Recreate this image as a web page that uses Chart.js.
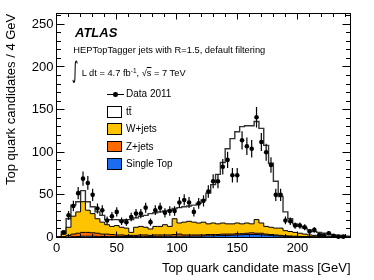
<!DOCTYPE html>
<html><head><meta charset="utf-8">
<script src="https://cdn.jsdelivr.net/npm/chart.js@4.4.0/dist/chart.umd.min.js"></script>
<style>
html,body{margin:0;padding:0;background:#fff;}
#wrap{position:relative;width:374px;height:280px;overflow:hidden;font-family:'Liberation Sans',Arial,sans-serif;color:#000;}
#c{position:absolute;left:0;top:0;}
.t{position:absolute;white-space:nowrap;}
.box{position:absolute;box-sizing:border-box;width:14.5px;height:11.5px;border:1px solid #000;}
</style></head>
<body><div id="wrap"><canvas id="c" width="374" height="280"></canvas>
<div class="t" style="left:3.5px;top:185px;font-size:13px;line-height:13px;transform-origin:0 0;transform:rotate(-90deg);">Top quark candidates / 4 GeV</div>
<div class="t" style="right:23.5px;top:261px;font-size:13px;line-height:13px;">Top quark candidate mass [GeV]</div>
<div class="t" style="left:75px;top:25.7px;font-size:13px;line-height:13px;font-weight:bold;font-style:italic;">ATLAS</div>
<div class="t" style="left:73.3px;top:46.1px;font-size:9.3px;line-height:9.3px;">HEPTopTagger jets with R=1.5, default filtering</div>
<div class="t" style="left:70.5px;top:62.5px;font-family:'DejaVu Sans';font-size:16px;line-height:16px;transform-origin:50% 9px;transform:scale(0.8,1.45);">∫</div>
<div class="t" style="left:81.7px;top:69.1px;font-size:9.3px;line-height:9.3px;">L dt = 4.7 fb<span style="font-size:6.5px;position:relative;top:-3.5px;">-1</span>, √<span style="text-decoration:overline;">s</span> = 7 TeV</div>
<div style="position:absolute;left:107px;top:93.8px;width:16.5px;height:1px;background:#000;"></div>
<div style="position:absolute;left:113px;top:92px;width:4.6px;height:4.6px;border-radius:50%;background:#000;"></div>
<div class="t" style="left:126px;top:89.4px;font-size:10px;line-height:10px;">Data 2011</div>
<div class="box" style="left:107.3px;top:106px;background:#fff;"></div>
<div class="t" style="left:126px;top:106.8px;font-size:10px;line-height:10px;">tt̄</div>
<div class="box" style="left:107.3px;top:123.4px;background:#FFC300;"></div>
<div class="t" style="left:126px;top:124.2px;font-size:10px;line-height:10px;">W+jets</div>
<div class="box" style="left:107.3px;top:140.8px;background:#FF6A00;"></div>
<div class="t" style="left:126px;top:141.6px;font-size:10px;line-height:10px;">Z+jets</div>
<div class="box" style="left:107.3px;top:158.2px;background:#1A6CF0;"></div>
<div class="t" style="left:126px;top:159px;font-size:10px;line-height:10px;">Single Top</div>
</div>
<script>
// bin lower edges (GeV), 4 GeV bins, plus the final upper edge
const binEdges = [0,4,8,12,16,20,24,28,32,36,40,44,48,52,56,60,64,68,72,76,80,84,88,92,96,100,104,108,112,116,120,124,128,132,136,140,144,148,152,156,160,164,168,172,176,180,184,188,192,196,200,204,208,212,216,220,224,228,232,236,240,244];
const xTickLabels = [0,50,100,150,200];
const yTickLabels = [0,50,100,150,200,250];

const dataCounts = [0,6,26,37,52,69,64,50,34,32, 20,25,30,19,18,24,28,28,35,18, 32,35,29,31,31,41,44,41,30,40, 43,54,66,66,83,91,73,73,114,107, 104,141,112,100,85,50,50,20,19,14, 14,12,7,9,3,2,5,2,1,1, 0];
const dataErrors = [0,2.4,5.1,6.1,7.2,8.3,8,7.1,5.8,5.7, 4.5,5,5.5,4.4,4.2,4.9,5.3,5.3,5.9,4.2, 5.7,5.9,5.4,5.6,5.6,6.4,6.6,6.4,5.5,6.3, 6.6,7.3,8.1,8.1,9.1,9.5,8.5,8.5,10.7,10.3, 10.2,11.9,10.6,10,9.2,7.1,7.1,4.5,4.4,3.7, 3.7,3.5,2.6,3,1.7,1.4,2.2,1.4,1,1, 0];

const singleTop = [0,0.3,0.5,1,1.2,1.5,1.5,1.5,1.3,1.2, 1.2,1.2,1.2,1.2,1.2,1.2,1.2,1.3,1.3,1.3, 1.3,1.3,1.4,1.4,1.4,1.5,1.5,1.5,1.6,1.6, 1.8,2,2,2.2,2.3,2.5,2.7,3,3.2,3.5, 3.5,3.5,3.2,2.8,2.4,2,1.6,1.3,1,0.8, 0.7,0.6,0.5,0.4,0.3,0.3,0.2,0.2,0.1,0.1, 0.1];
const zJets = [0.2,0.7,2,3,3.8,4.5,4.5,4,3.7,2.8, 2.8,2.3,1.8,1.8,1.3,1.3,1.3,1.7,1.7,1.2, 1.7,1.7,1.6,1.6,2.1,2.5,1.5,1.5,1.4,1.4, 1.2,1.5,1.5,1.3,1.7,1.5,1.3,1.5,1.3,1.5, 2,1.5,1.8,1.2,1.1,1,0.9,0.7,0.8,0.7, 0.6,0.5,0.5,0.5,0.5,0.4,0.4,0.3,0.3,0.2, 0.1];
const wJets = [0.3,3,9.5,21,25,36,26,22.5,17,14, 11,9.5,11,9,8.5,3.5,9.5,10,9,7.5, 10,10,12,10,18.5,13,15,16,15,14, 15,12.5,13.5,12.5,13,12,12,12.5,11.5,12, 10.5,16,12,9,8.5,8,8.5,6,5.2,4.5, 3.7,2.9,2,1.6,1.2,1.3,0.9,0.7,0.6,0.5, 0.3];
const ttbar = [0.5,3,10,13,12,13,10,8,8,8, 6,8,7,8,10,15,11,12,14,18, 16,17,16,19,12,18,18,18,20,23, 26,36,45,58,71,88,100,107,114,114, 115,115,111,95,75,55,37,22,15,10, 8,7,6,4.5,4,3,2.5,1.8,1.5,1.2, 1];

function stepPoints(arr){
  const pts = arr.map((v,i)=>({x:binEdges[i], y:v}));
  pts.push({x:binEdges[arr.length], y:arr[arr.length-1]});
  return pts;
}
const dataPoints = dataCounts.map((v,i)=>({x:(binEdges[i]+binEdges[i+1])/2, y:v>0?v:null}));

function mc(label, arr, color, fill, bw, bc){
  return {label, data:stepPoints(arr), stepped:'before', fill, backgroundColor:color,
    borderColor:bc, borderWidth:bw, pointRadius:0, stack:'mc', order:1};
}

const snap = v => Math.round(v-0.5)+0.5;

const errorBars = {
  id:'errorBars',
  afterDatasetsDraw(chart){
    const meta = chart.getDatasetMeta(4);
    const y = chart.scales.y; const ctx = chart.ctx;
    ctx.save(); ctx.strokeStyle='#000'; ctx.lineWidth=1.2; ctx.beginPath();
    meta.data.forEach((pt,i)=>{
      const v = dataCounts[i]; if(!(v>0)) return;
      const e = dataErrors[i];
      ctx.moveTo(pt.x, y.getPixelForValue(v+e));
      ctx.lineTo(pt.x, y.getPixelForValue(Math.max(0,v-e)));
    });
    ctx.stroke();
    meta.data.forEach((pt,i)=>{
      if(!(dataCounts[i]>0)) return;
      ctx.beginPath(); ctx.fillStyle='#000'; ctx.arc(pt.x,pt.y,2.3,0,Math.PI*2); ctx.fill();
    });
    ctx.restore();
  }
};

const frameTicks = {
  id:'frameTicks',
  afterDraw(chart){
    const {ctx, chartArea:a, scales:{x,y}} = chart;
    ctx.save(); ctx.strokeStyle='#000'; ctx.lineWidth=1; ctx.beginPath();
    for(let v=0; v<=x.max; v+=10){
      const px = snap(x.getPixelForValue(v)); const L = (v%50===0)?6:3.5;
      ctx.moveTo(px,a.bottom); ctx.lineTo(px,a.bottom-L);
      ctx.moveTo(px,a.top); ctx.lineTo(px,a.top+L);
    }
    for(let v=0; v<=y.max; v+=10){
      const py = snap(y.getPixelForValue(v)); const L = (v%50===0)?8:4.5;
      ctx.moveTo(a.left,py); ctx.lineTo(a.left+L,py);
      ctx.moveTo(a.right,py); ctx.lineTo(a.right-L,py);
    }
    ctx.stroke();
    ctx.strokeRect(a.left, a.top, a.right-a.left, a.bottom-a.top);
    ctx.restore();
  }
};

Chart.defaults.font.family = "'Liberation Sans', Arial, sans-serif";
Chart.defaults.font.size = 13;
Chart.defaults.color = '#000';

new Chart(document.getElementById('c'), {
  type:'line',
  data:{datasets:[
    mc('Single Top', singleTop, '#1A6CF0', 'origin', 1, '#000'),
    mc('Z+jets', zJets, '#FF6A00', '-1', 1, '#000'),
    mc('W+jets', wJets, '#FFC300', '-1', 1, '#000'),
    mc('tt', ttbar, '#FFFFFF', '-1', 1.4, '#333'),
    {label:'Data 2011', data:dataPoints, showLine:false, pointRadius:0, stack:'data', order:0, fill:false}
  ]},
  options:{
    responsive:false, animation:false, devicePixelRatio:1,
    layout:{padding:{top:13.5, right:23.5, left:0, bottom:0}},
    plugins:{legend:{display:false}, tooltip:{enabled:false}},
    scales:{
      x:{type:'linear', min:0, max:244,
        grid:{display:false, drawTicks:false}, border:{display:false},
        ticks:{stepSize:50, includeBounds:false, padding:3, maxRotation:0, autoSkip:false,
          callback:v=> xTickLabels.includes(v)? String(v):''},
        afterFit:s=>{s.height=42.5;}},
      y:{type:'linear', stacked:true, min:0, max:262.7,
        grid:{display:false, drawTicks:false}, border:{display:false},
        ticks:{stepSize:50, includeBounds:false, padding:3,
          callback:v=> yTickLabels.includes(v)? String(v):''},
        afterFit:s=>{s.width=56.5;}}
    }
  },
  plugins:[errorBars, frameTicks]
});
</script>
</body></html>
